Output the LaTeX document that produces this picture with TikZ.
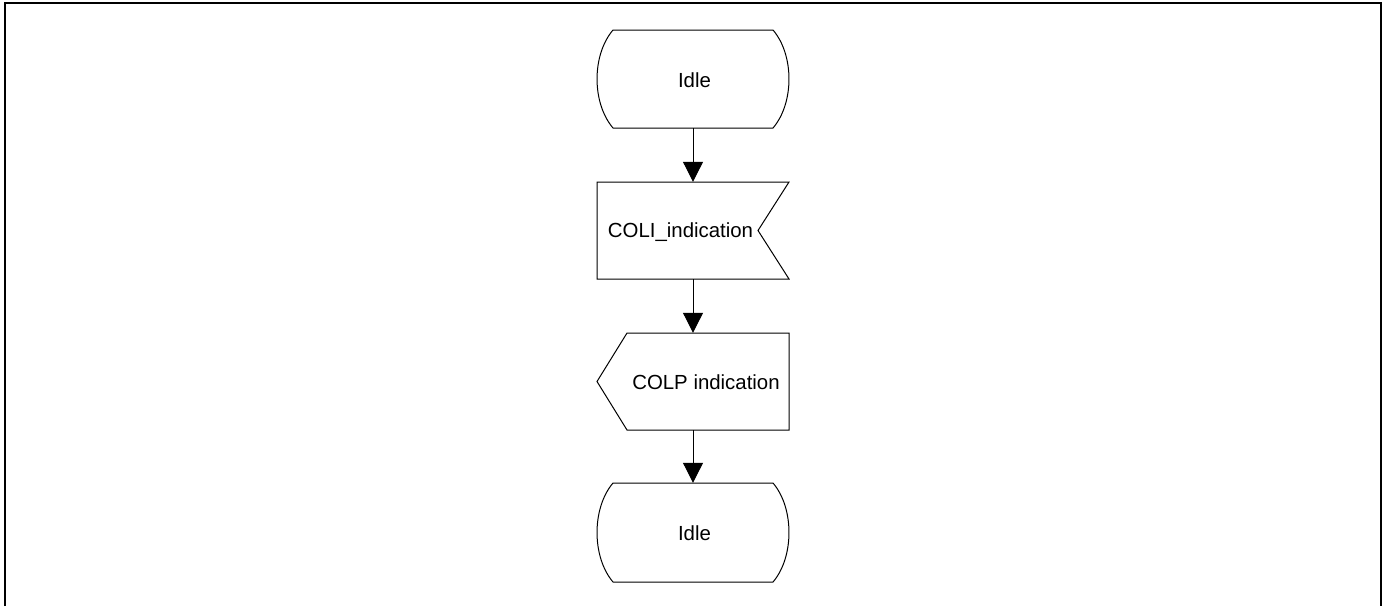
\documentclass[tikz,border=0pt]{standalone}
\usepackage{fontspec}
\setmainfont{Liberation Sans}
\usetikzlibrary{arrows.meta}
\begin{document}
\begin{tikzpicture}[x=1pt,y=-1pt,
  box/.style={draw=none, minimum width=192pt, inner sep=0pt},
  lbl/.style={inner sep=0pt, font=\fontsize{20.4}{24}\selectfont},
  outline/.style={draw=black, line width=1pt, line join=miter},
  flow/.style={draw=black, line width=1pt, -{Triangle[width=20pt,length=20pt]}}]
\useasboundingbox (0,0) rectangle (1388,606);
\draw[line width=2pt] (5,606) -- (5,3) -- (1381,3) -- (1381,606);
% anchor nodes
\node[box, minimum height=98pt] (idle1) at (693,79) {};
\node[box, minimum height=97pt] (coli) at (693,230.5) {};
\node[box, minimum height=97pt] (colp) at (693,381.5) {};
\node[box, minimum height=99pt] (idle2) at (693,532.5) {};
% outlines
\draw[outline] (613,30) -- (773,30) .. controls (794.3,55) and (794.3,103) .. (773,128)
  -- (613,128) .. controls (591.7,103) and (591.7,55) .. (613,30) -- cycle;
\draw[outline] (597,182) -- (789,182) -- (758,230.5) -- (789,279) -- (597,279) -- cycle;
\draw[outline] (627,333) -- (789,333) -- (789,430) -- (627,430) -- (597,381.5) -- cycle;
\draw[outline] (613,483) -- (773,483) .. controls (794.3,508) and (794.3,557) .. (773,582)
  -- (613,582) .. controls (591.7,557) and (591.7,508) .. (613,483) -- cycle;
% labels
\node[lbl] (idle1t) at (694.5,80) {Idle};
\node[lbl] (colit) at (680.5,232) {COLI\_indication};
\node[lbl] (colpt) at (706,382) {COLP indication};
\node[lbl] (idle2t) at (694.5,533) {Idle};
% connectors
\draw[flow] (idle1.south) -- (coli.north);
\draw[flow] (coli.south) -- (colp.north);
\draw[flow] (colp.south) -- (idle2.north);
\end{tikzpicture}
\end{document}
